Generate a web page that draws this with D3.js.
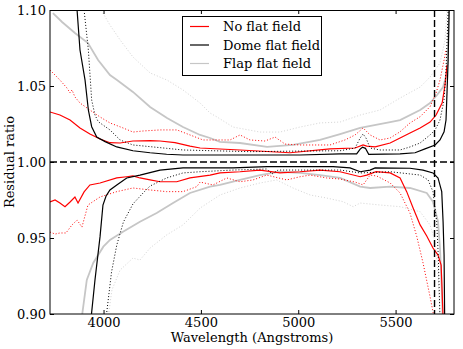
<!DOCTYPE html>
<html>
<head>
<meta charset="utf-8">
<script src="https://cdn.jsdelivr.net/npm/d3@7"></script>
<style>
	body { margin: 0; background: #fff; }
	svg { display: block; }
	text { font-family: "DejaVu Serif", serif; font-size: 13px; fill: #000; }
</style>
</head>
<body>
<div id="chart"></div>
<script>
// wavelength (Angstroms), residual ratio
const noFlatUp = [[3725,1.0329],[3776,1.0309],[3828,1.0276],[3879,1.0224],[3930,1.0184],[3982,1.0151],[4033,1.0127],[4085,1.0125],[4151,1.0138],[4239,1.0140],[4290,1.0138],[4367,1.0127],[4444,1.0105],[4496,1.0092],[4701,1.0079],[4958,1.0061],[5163,1.0086],[5292,1.0092],[5333,1.0112],[5352,1.0105],[5395,1.0099],[5472,1.0125],[5523,1.0158],[5574,1.0191],[5626,1.0224],[5677,1.0263],[5708,1.0309],[5739,1.0388],[5754,1.0507],[5764,1.0638]];
const noFlatLow = [[3725,0.9737],[3751,0.9750],[3776,0.9730],[3802,0.9706],[3828,0.9737],[3853,0.9770],[3869,0.9730],[3900,0.9803],[3930,0.9849],[3982,0.9862],[4068,0.9895],[4119,0.9903],[4151,0.9908],[4187,0.9895],[4239,0.9882],[4290,0.9870],[4376,0.9870],[4444,0.9895],[4547,0.9914],[4598,0.9928],[4701,0.9936],[4804,0.9947],[4906,0.9928],[5009,0.9936],[5112,0.9947],[5215,0.9936],[5318,0.9903],[5352,0.9914],[5400,0.9936],[5472,0.9928],[5523,0.9895],[5557,0.9805],[5590,0.9697],[5626,0.9586],[5660,0.9513],[5692,0.9434],[5718,0.9388],[5734,0.9322],[5744,0.8974]];
const noFlatDotUp = [[3725,1.0605],[3751,1.0572],[3776,1.0539],[3812,1.0487],[3828,1.0454],[3838,1.0474],[3853,1.0428],[3879,1.0388],[3930,1.0342],[3982,1.0296],[4033,1.0257],[4100,1.0224],[4151,1.0197],[4203,1.0204],[4290,1.0211],[4377,1.0211],[4444,1.0178],[4511,1.0145],[4650,1.0145],[4701,1.0178],[4752,1.0145],[4829,1.0138],[4881,1.0164],[4932,1.0118],[5009,1.0112],[5163,1.0112],[5240,1.0145],[5292,1.0178],[5333,1.0224],[5369,1.0178],[5420,1.0145],[5472,1.0158],[5523,1.0199],[5574,1.0257],[5626,1.0298],[5677,1.0364],[5708,1.0454],[5728,1.0539],[5749,1.0671],[5759,1.0737]];
const noFlatDotLow = [[3725,0.9539],[3751,0.9526],[3776,0.9533],[3807,0.9533],[3838,0.9586],[3864,0.9618],[3889,0.9572],[3920,0.9717],[3982,0.9770],[4068,0.9805],[4151,0.9829],[4239,0.9816],[4324,0.9805],[4408,0.9805],[4479,0.9838],[4496,0.9868],[4562,0.9849],[4633,0.9895],[4701,0.9870],[4768,0.9882],[4838,0.9914],[4941,0.9882],[5009,0.9903],[5061,0.9914],[5146,0.9895],[5215,0.9888],[5292,0.9868],[5333,0.9849],[5369,0.9914],[5403,0.9908],[5472,0.9862],[5523,0.9796],[5574,0.9664],[5609,0.9509],[5641,0.9336],[5677,0.9114],[5698,0.8974]];

const domeUp = [[3864,1.100],[3879,1.0737],[3905,1.0539],[3922,1.0342],[3939,1.0232],[3965,1.0164],[4008,1.0134],[4068,1.0099],[4151,1.0074],[4239,1.0061],[4324,1.0051],[4408,1.0046],[4752,1.0046],[5009,1.0046],[5215,1.0053],[5300,1.0053],[5318,1.0085],[5330,1.0097],[5345,1.0090],[5362,1.0050],[5523,1.0053],[5600,1.0061],[5651,1.0086],[5703,1.0112],[5728,1.0145],[5749,1.0199],[5759,1.0276],[5764,1.0454],[5770,1.0671],[5775,1.100]];
const domeLow = [[3936,0.8974],[3956,0.9224],[3982,0.9509],[3997,0.9717],[4013,0.9776],[4033,0.9816],[4068,0.9849],[4119,0.9895],[4187,0.9914],[4290,0.9947],[4408,0.9961],[4665,0.9961],[4840,0.9969],[5179,0.9969],[5266,0.9961],[5318,0.9936],[5369,0.9947],[5395,0.9961],[5574,0.9959],[5641,0.9947],[5692,0.9928],[5718,0.9895],[5737,0.9805],[5744,0.9605],[5749,0.9388],[5752,0.8974]];
const domeDotUp = [[3900,1.100],[3922,1.0737],[3939,1.0408],[3956,1.0309],[3973,1.0265],[3982,1.0257],[4033,1.0211],[4085,1.0145],[4151,1.0112],[4239,1.0101],[4324,1.0090],[4408,1.0079],[4752,1.0068],[5009,1.0072],[5215,1.0074],[5292,1.0092],[5318,1.0158],[5333,1.0184],[5348,1.0158],[5369,1.0092],[5420,1.0079],[5523,1.0079],[5574,1.0099],[5626,1.0125],[5677,1.0178],[5703,1.0211],[5728,1.0276],[5749,1.0408],[5759,1.0605],[5770,1.100]];
const domeDotLow = [[4013,0.8974],[4041,0.9276],[4068,0.9454],[4102,0.9605],[4151,0.9724],[4203,0.9796],[4239,0.9842],[4324,0.9895],[4408,0.9928],[4496,0.9936],[4665,0.9947],[4840,0.9954],[4865,0.9921],[4896,0.9947],[5215,0.9947],[5318,0.9928],[5472,0.9936],[5626,0.9914],[5667,0.9882],[5692,0.9805],[5711,0.9607],[5719,0.9388],[5728,0.8974]];

const flapUp = [[3740,1.098],[3787,1.0921],[3853,1.0849],[3920,1.0783],[3972,1.0671],[4033,1.0572],[4069,1.0539],[4151,1.0461],[4239,1.0362],[4326,1.0289],[4408,1.0230],[4496,1.0178],[4547,1.0158],[4598,1.0132],[4701,1.0125],[4840,1.0099],[4973,1.0112],[5112,1.0145],[5215,1.0184],[5318,1.0224],[5472,1.0263],[5523,1.0276],[5626,1.0342],[5677,1.0388],[5713,1.0441],[5744,1.0493],[5764,1.0586],[5775,1.100]];
const flapLow = [[3888,0.8974],[3914,0.9224],[3947,0.9336],[3999,0.9443],[4033,0.9487],[4100,0.9541],[4187,0.9607],[4273,0.9664],[4357,0.9730],[4444,0.9796],[4547,0.9838],[4598,0.9849],[4701,0.9882],[4804,0.9914],[4906,0.9936],[5009,0.9928],[5112,0.9914],[5215,0.9895],[5318,0.9838],[5369,0.9829],[5472,0.9838],[5574,0.9829],[5660,0.9796],[5692,0.9739],[5718,0.9607],[5728,0.9434],[5737,0.9171],[5742,0.8974]];
const flapDotUp = [[3997,1.098],[4033,1.0901],[4085,1.0803],[4151,1.0691],[4239,1.0586],[4326,1.0539],[4408,1.0474],[4496,1.0388],[4547,1.0322],[4583,1.0296],[4665,1.0230],[4804,1.0197],[4906,1.0197],[5009,1.0230],[5112,1.0257],[5215,1.0263],[5318,1.0309],[5420,1.0342],[5523,1.0421],[5626,1.0493],[5677,1.0559],[5728,1.0651],[5754,1.0803],[5764,1.100]];
const flapDotLow = [[4023,0.8974],[4043,0.9158],[4085,0.9289],[4151,0.9368],[4187,0.9355],[4239,0.9434],[4324,0.9520],[4408,0.9586],[4496,0.9697],[4598,0.9783],[4701,0.9829],[4804,0.9862],[4889,0.9882],[4973,0.9829],[5061,0.9783],[5146,0.9763],[5230,0.9739],[5282,0.9706],[5318,0.9730],[5420,0.9717],[5523,0.9706],[5626,0.9673],[5677,0.9586],[5703,0.9476],[5718,0.9278],[5728,0.8974]];

const xTicks = [4000, 4500, 5000, 5500];
const yTicks = [0.90, 0.95, 1.00, 1.05, 1.10];
const legendLabels = ["No flat field", "Dome flat field", "Flap flat field"];
const cutoffWavelength = 5700;

//chart size
const width = 463;
const height = 349;
const margin = {top: 10, right: 9, bottom: 35, left: 50};

const x = d3.scaleLinear().domain([3725, 5800]).range([margin.left, width - margin.right]);
const y = d3.scaleLinear().domain([0.90, 1.10]).range([height - margin.bottom, margin.top]);

const svg = d3.select("#chart").append("svg")
	.attr("width", width)
	.attr("height", height);

svg.append("clipPath").attr("id", "plot-clip")
	.append("rect")
	.attr("x", x.range()[0]).attr("y", y.range()[1])
	.attr("width", x.range()[1] - x.range()[0])
	.attr("height", y.range()[0] - y.range()[1]);

const line = d3.line().x(d => x(d[0])).y(d => y(d[1]));

// styles per series: gray drawn first, black last (as in the figure)
const red = "#ff0000", black = "#000000";
const series = [
	{data: flapDotUp, color: "#d4d4d4", w: 1, dash: "1,2"},
	{data: flapDotLow, color: "#d4d4d4", w: 1, dash: "1,2"},
	{data: flapUp, color: "#c6c6c6", w: 1.8, dash: null},
	{data: flapLow, color: "#c6c6c6", w: 1.8, dash: null},
	{data: noFlatDotUp, color: red, w: 1, dash: "1,2"},
	{data: noFlatDotLow, color: red, w: 1, dash: "1,2"},
	{data: noFlatUp, color: red, w: 1.2, dash: null},
	{data: noFlatLow, color: red, w: 1.2, dash: null},
	{data: domeDotUp, color: black, w: 1, dash: "1,2"},
	{data: domeDotLow, color: black, w: 1, dash: "1,2"},
	{data: domeUp, color: black, w: 1.2, dash: null},
	{data: domeLow, color: black, w: 1.2, dash: null}
];

const plot = svg.append("g").attr("clip-path", "url(#plot-clip)");

plot.selectAll("path.curve")
	.data(series)
	.join("path")
	.attr("class", "curve")
	.attr("d", s => line(s.data))
	.attr("fill", "none")
	.attr("stroke", s => s.color)
	.attr("stroke-width", s => s.w)
	.attr("stroke-dasharray", s => s.dash);

// dashed reference lines
plot.append("line")
	.attr("x1", x.range()[0]).attr("x2", x.range()[1])
	.attr("y1", y(1.0)).attr("y2", y(1.0))
	.attr("stroke", "#000").attr("stroke-width", 1.4)
	.attr("stroke-dasharray", "7,3");
plot.append("line")
	.attr("x1", x(cutoffWavelength)).attr("x2", x(cutoffWavelength))
	.attr("y1", y.range()[1]).attr("y2", y.range()[0])
	.attr("stroke", "#000").attr("stroke-width", 1.4)
	.attr("stroke-dasharray", "7,3");

// axes with inward ticks on all four sides
const tickLen = -4;
svg.append("g").attr("transform", `translate(0,${y.range()[0]})`)
	.call(d3.axisBottom(x).tickValues(xTicks).tickSizeInner(tickLen).tickSizeOuter(0).tickPadding(4).tickFormat(d3.format("d")));
svg.append("g").attr("transform", `translate(0,${y.range()[1]})`)
	.call(d3.axisTop(x).tickValues(xTicks).tickSizeInner(tickLen).tickSizeOuter(0).tickFormat(""));
svg.append("g").attr("transform", `translate(${x.range()[0]},0)`)
	.call(d3.axisLeft(y).tickValues(yTicks).tickSizeInner(tickLen).tickSizeOuter(0).tickPadding(4).tickFormat(d3.format(".2f")));
svg.append("g").attr("transform", `translate(${x.range()[1]},0)`)
	.call(d3.axisRight(y).tickValues(yTicks).tickSizeInner(tickLen).tickSizeOuter(0).tickFormat(""));

svg.selectAll(".domain").remove();
svg.selectAll(".tick line").attr("stroke", "#000");
svg.selectAll(".tick text").attr("font-family", "DejaVu Serif").attr("font-size", 13).attr("fill", "#000");

// frame
svg.append("rect")
	.attr("x", x.range()[0]).attr("y", y.range()[1] + 0.5)
	.attr("width", x.range()[1] - x.range()[0])
	.attr("height", y.range()[0] - y.range()[1] - 0.5)
	.attr("fill", "none").attr("stroke", "#000").attr("stroke-width", 1);

// axis labels
svg.append("text")
	.attr("x", (x.range()[0] + x.range()[1]) / 2).attr("y", 342)
	.attr("text-anchor", "middle")
	.text("Wavelength (Angstroms)");
svg.append("text")
	.attr("transform", `translate(14,${(y.range()[0] + y.range()[1]) / 2}) rotate(-90)`)
	.attr("text-anchor", "middle")
	.text("Residual ratio");

// legend
const legend = svg.append("g").attr("transform", "translate(182.5,16.5)");
legend.append("rect")
	.attr("width", 139).attr("height", 59)
	.attr("fill", "#fff").attr("stroke", "#000").attr("stroke-width", 1);
const legendColors = [red, black, "#c6c6c6"];
const row = legend.selectAll("g.row")
	.data(legendLabels)
	.join("g")
	.attr("class", "row")
	.attr("transform", (d, i) => `translate(0,${10 + i * 18.5})`);
row.append("line")
	.attr("x1", 7.5).attr("x2", 26.5)
	.attr("y1", 0).attr("y2", 0)
	.attr("stroke", (d, i) => legendColors[i])
	.attr("stroke-width", 1.2);
row.append("text")
	.attr("x", 40.5).attr("y", 4.5)
	.text(d => d);
</script>
</body>
</html>
